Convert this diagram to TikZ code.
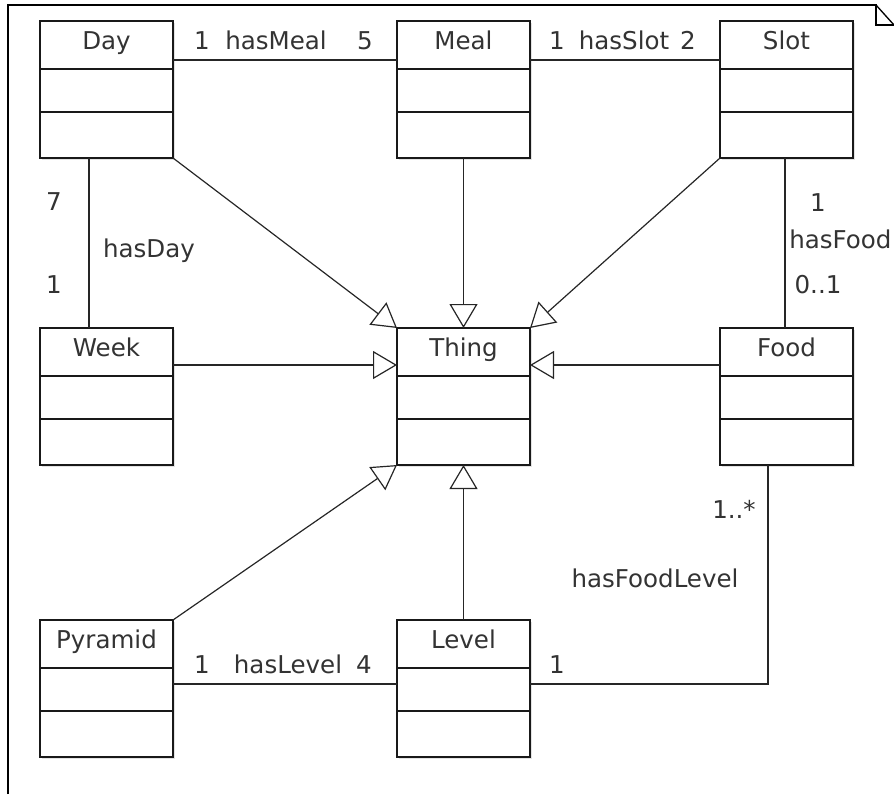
\documentclass[tikz,border=0pt]{standalone}
\usepackage{fontspec}
\setmainfont{DejaVu Sans}
\usetikzlibrary{arrows.meta,calc,shadows}

% A UML class: name, left x, top y, title
\newcommand\umlclass[4]{%
  \node[classbox] (#1) at ({#2+66.5},{#3+68.5}) {};
  \draw[boxline] ($(#1.north west)+(0,48)$) -- ($(#1.north east)+(0,48)$);
  \draw[boxline] ($(#1.north west)+(0,91)$) -- ($(#1.north east)+(0,91)$);
  \node[classname] (#1-title) at ({#2+66.5},{#3+28}) {#4};
}

\begin{document}
\begin{tikzpicture}[
  x=0.75pt, y=-0.75pt,
  font=\fontsize{18.4pt}{22pt}\selectfont,
  boxline/.style={line width=1.3pt, black!90},
  classbox/.style={rectangle, draw=black!90, line width=1.3pt, fill=white,
    minimum width=99.75pt, minimum height=102.75pt, inner sep=0pt, outer sep=0pt,
    drop shadow={opacity=0.22, shadow xshift=1.5pt, shadow yshift=-1.5pt}},
  classname/.style={anchor=base, inner sep=0pt, text=black!80},
  lbl/.style={anchor=base, inner sep=0pt, text=black!80},
  assoc/.style={line width=1pt, black!85},
  generalize/.style={line width=0.9pt, black!85,
    -{Triangle[fill=white, length=18pt, width=21pt]}},
]
\useasboundingbox (0,0) rectangle (894,794);

% diagram frame with folded corner
\coordinate (frameBL) at (8,794);
\coordinate (frameTL) at (8,5);
\coordinate (frameTR) at (876,5);
\coordinate (foldB) at (876,25);
\coordinate (foldR) at (894,25);
\draw[line width=1.4pt] (frameBL) -- (frameTL) -- (frameTR) -- (foldB) -- (foldR);
\draw[line width=1pt] (frameTR) -- (foldR);

% classes
\umlclass{day}{40}{21}{Day}
\umlclass{meal}{397}{21}{Meal}
\umlclass{slot}{720}{21}{Slot}
\umlclass{week}{40}{328}{Week}
\umlclass{thing}{397}{328}{Thing}
\umlclass{food}{720}{328}{Food}
\umlclass{pyramid}{40}{620}{Pyramid}
\umlclass{level}{397}{620}{Level}

% associations
\draw[assoc] ($(day.north east)+(0,39)$) -- ($(meal.north west)+(0,39)$);
\draw[assoc] ($(meal.north east)+(0,39)$) -- ($(slot.north west)+(0,39)$);
\draw[assoc] ($(day.south west)+(49,0)$) -- ($(week.north west)+(49,0)$);
\draw[assoc] ($(slot.south west)+(65,0)$) -- ($(food.north west)+(65,0)$);
\draw[assoc] ($(pyramid.north east)+(0,64)$) -- ($(level.north west)+(0,64)$);
\draw[assoc] ($(food.south west)+(48,0)$) |- ($(level.north east)+(0,64)$);

% association labels
\node[lbl] (dm1) at (202,49) {1};
\node[lbl] (dmname) at (276,49) {hasMeal};
\node[lbl] (dm5) at (365,49) {5};
\node[lbl] (ms1) at (557,49) {1};
\node[lbl] (msname) at (624,49) {hasSlot};
\node[lbl] (ms2) at (688,49) {2};

\node[lbl] (dw7) at (54,210) {7};
\node[lbl] (dwname) at (149,257) {hasDay};
\node[lbl] (dw1) at (54,293) {1};

\node[lbl] (sf1) at (818,211) {1};
\node[lbl, anchor=base west] (sfname) at (789,248) {hasFood};
\node[lbl] (sf01) at (818,293) {0..1};

\node[lbl] (fl1n) at (734,518) {1..*};
\node[lbl] (flname) at (655,587) {hasFoodLevel};
\node[lbl] (fl1) at (557,673) {1};

\node[lbl] (pl1) at (202,673) {1};
\node[lbl] (plname) at (288,673) {hasLevel};
\node[lbl] (pl4) at (364,673) {4};

% generalizations to Thing
\draw[generalize] (day.south east) -- (thing.north west);
\draw[generalize] (meal.south) -- (thing.north);
\draw[generalize] (slot.south west) -- (thing.north east);
\draw[generalize] ($(week.north east)+(0,37)$) -- ($(thing.north west)+(0,37)$);
\draw[generalize] ($(food.north west)+(0,37)$) -- ($(thing.north east)+(0,37)$);
\draw[generalize] (pyramid.north east) -- (thing.south west);
\draw[generalize] (level.north) -- (thing.south);
\end{tikzpicture}
\end{document}
